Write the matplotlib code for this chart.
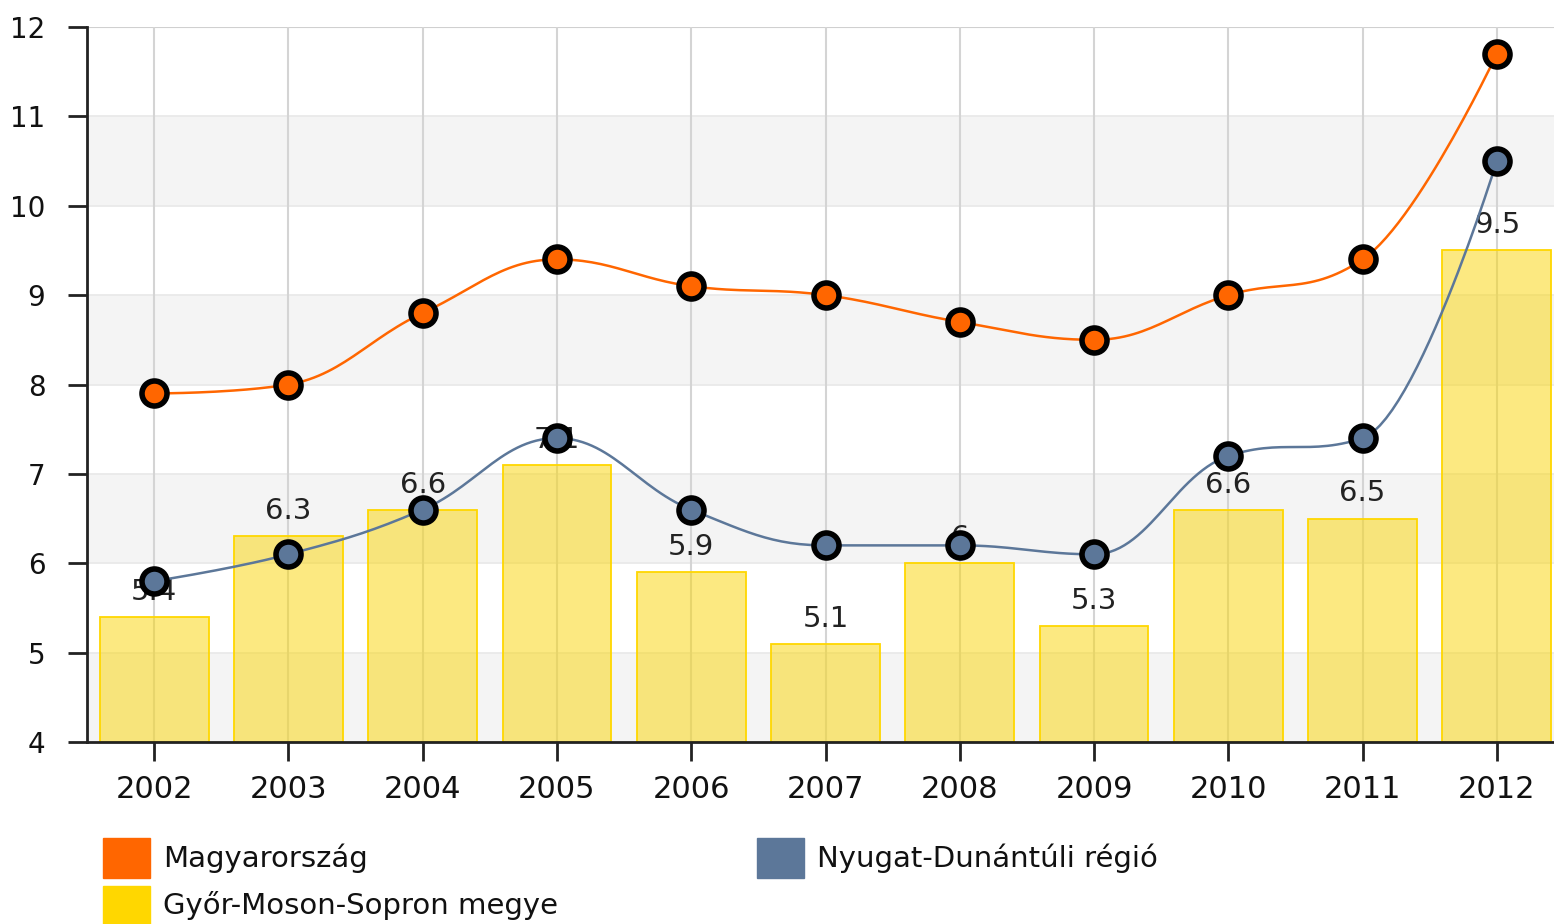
import numpy as np
import matplotlib.pyplot as plt
from matplotlib.patches import Rectangle

years = ['2002', '2003', '2004', '2005', '2006', '2007', '2008', '2009', '2010', '2011', '2012']
magyarorszag = [7.9, 8.0, 8.8, 9.4, 9.1, 9.0, 8.7, 8.5, 9.0, 9.4, 11.7]
nyugat_dunantul = [5.8, 6.1, 6.6, 7.4, 6.6, 6.2, 6.2, 6.1, 7.2, 7.4, 10.5]
gyor_moson_sopron = [5.4, 6.3, 6.6, 7.1, 5.9, 5.1, 6.0, 5.3, 6.6, 6.5, 9.5]
labels = ['Magyarország', 'Nyugat-Dunántúli régió', 'Győr-Moson-Sopron megye']

ORANGE = '#FF6600'
BLUE = '#5C7799'
YELLOW = '#FFD700'
TXT = '#111111'


def spline(xs, ys, smoothing=1.5, steps=30):
    # highcharts-like spline through the points
    n = len(xs)
    lc = [(x, y) for x, y in zip(xs, ys)]
    rc = [(x, y) for x, y in zip(xs, ys)]
    d = smoothing + 1
    for i in range(1, n - 1):
        px, py = xs[i], ys[i]
        lx, ly = xs[i - 1], ys[i - 1]
        nx, ny = xs[i + 1], ys[i + 1]
        lcx = (smoothing * px + lx) / d
        lcy = (smoothing * py + ly) / d
        rcx = (smoothing * px + nx) / d
        rcy = (smoothing * py + ny) / d
        corr = (rcy - lcy) * (rcx - px) / (rcx - lcx) + py - rcy
        lcy += corr
        rcy += corr
        if lcy > ly and lcy > py:
            lcy = max(ly, py)
            rcy = 2 * py - lcy
        elif lcy < ly and lcy < py:
            lcy = min(ly, py)
            rcy = 2 * py - lcy
        if rcy > ny and rcy > py:
            rcy = max(ny, py)
            lcy = 2 * py - rcy
        elif rcy < ny and rcy < py:
            rcy = min(ny, py)
            lcy = 2 * py - rcy
        lc[i] = (lcx, lcy)
        rc[i] = (rcx, rcy)
    t = np.linspace(0, 1, steps)[:, None]
    out = []
    for i in range(1, n):
        p0 = np.array([xs[i - 1], ys[i - 1]])
        p1 = np.array(rc[i - 1])
        p2 = np.array(lc[i])
        p3 = np.array([xs[i], ys[i]])
        seg = (1 - t) ** 3 * p0 + 3 * (1 - t) ** 2 * t * p1 + 3 * (1 - t) * t ** 2 * p2 + t ** 3 * p3
        out.append(seg if i == 1 else seg[1:])
    out = np.vstack(out)
    return out[:, 0], out[:, 1]


fig = plt.figure(figsize=(15.54, 9.24), dpi=100)
ax = fig.add_axes([87 / 1554, 1 - 742 / 924, 1477 / 1554, 715 / 924])
x = np.arange(len(years))

for lo in [4, 6, 8, 10]:
    ax.axhspan(lo, lo + 1, color='#f4f4f4', zorder=0, lw=0)
for yv in range(5, 12):
    ax.axhline(yv, color='#e8e8e8', lw=1.2, zorder=0.5)
ax.axhline(12, color='#d0d0d0', lw=1.5, zorder=0.5)
for xi in x:
    ax.axvline(xi, color='#d4d4d4', lw=1.5, zorder=0.6)

ax.bar(x, [v - 4 for v in gyor_moson_sopron], bottom=4, width=0.81,
       color=(0.98, 0.84, 0.05, 0.52), edgecolor=YELLOW, lw=1.3, zorder=2)
for xi, v in zip(x, gyor_moson_sopron):
    ax.annotate(f'{v:g}', (xi, v), xytext=(0, 8), textcoords='offset points',
                ha='center', va='bottom', fontsize=21, color='#222222', zorder=3)

for vals, col in [(magyarorszag, ORANGE), (nyugat_dunantul, BLUE)]:
    sx, sy = spline(list(x.astype(float)), vals)
    ax.plot(sx, sy, color=col, lw=1.8, zorder=4)
    ax.plot(x, vals, 'o', ms=18, mfc=col, mec='black', mew=4, zorder=5)

ax.set_xlim(-0.5, 10.5)
ax.set_ylim(4, 12)
ax.set_yticks(range(4, 13))
ax.set_xticks(x)
ax.set_xticklabels(years)
for s in ['top', 'right']:
    ax.spines[s].set_visible(False)
ax.spines['left'].set_color('#222222')
ax.spines['bottom'].set_color('#222222')
ax.spines['left'].set_linewidth(2)
ax.spines['bottom'].set_linewidth(2)
ax.tick_params(axis='y', length=14, width=2, color='#222222', pad=16, labelsize=20, labelcolor=TXT)
ax.tick_params(axis='x', length=14, width=2, color='#222222', pad=10, labelsize=22, labelcolor=TXT)

# legend
legend_items = [
    (ORANGE, labels[0], 103, 838),
    (BLUE, labels[1], 757, 838),
    (YELLOW, labels[2], 103, 886),
]
for col, txt, px, py in legend_items:
    fig.patches.append(Rectangle((px / 1554, 1 - (py + 40) / 924), 47 / 1554, 40 / 924,
                                 transform=fig.transFigure, color=col))
    fig.text((px + 60) / 1554, 1 - (py + 20) / 924, txt, fontsize=21,
             color=TXT, va='center', ha='left')

fig.savefig('out.png', dpi=100)
